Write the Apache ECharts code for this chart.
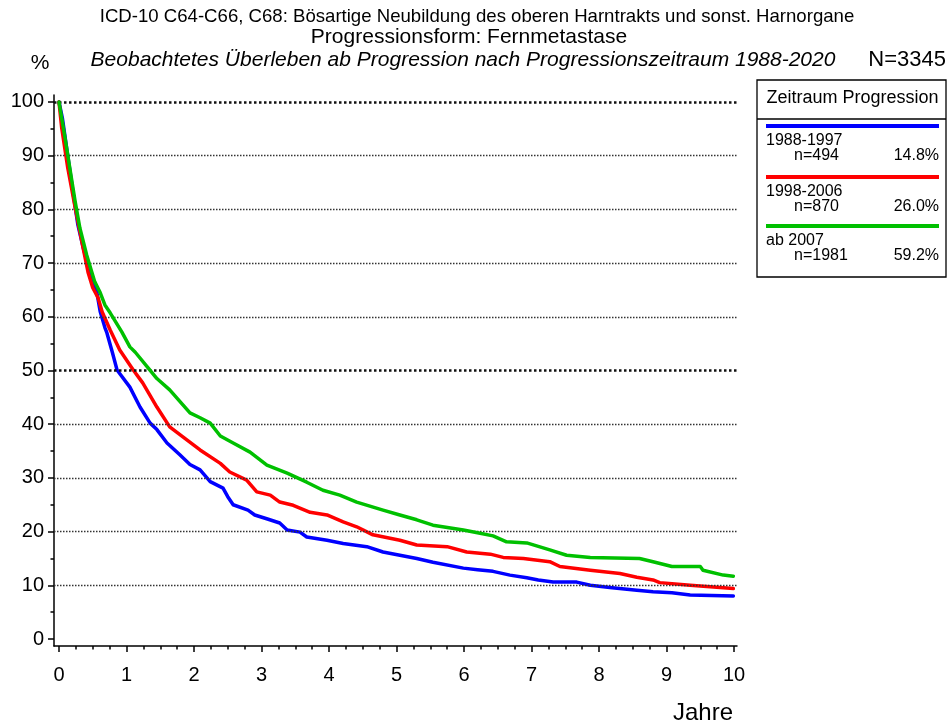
<!DOCTYPE html>
<html>
<head>
<meta charset="utf-8">
<script src="https://cdn.jsdelivr.net/npm/echarts@6/dist/echarts.min.js"></script>
<style>html,body{margin:0;padding:0;background:#fff;}#c{width:949px;height:726px;}</style>
</head>
<body>
<div id="c"></div>
<script>
var FONT = "'Liberation Sans', Arial, sans-serif";

var titleLine1 = 'ICD-10 C64-C66, C68: Bösartige Neubildung des oberen Harntrakts und sonst. Harnorgane';
var titleLine2 = 'Progressionsform: Fernmetastase';
var titleLine3 = 'Beobachtetes Überleben ab Progression nach Progressionszeitraum 1988-2020';
var totalN = 'N=3345';
var yUnit = '%';
var xName = 'Jahre';
var legendTitle = 'Zeitraum Progression';

var groupNames = ['1988-1997', '1998-2006', 'ab 2007'];
var groupN = ['n=494', 'n=870', 'n=1981'];
var groupPct = ['14.8%', '26.0%', '59.2%'];
var groupColors = ['#0000ff', '#ff0000', '#00c000'];

var xTickValues = [0,1,2,3,4,5,6,7,8,9,10];
var xMinorValues = [0.25,0.5,0.75,1.25,1.5,1.75,2.25,2.5,2.75,3.25,3.5,3.75,4.25,4.5,4.75,5.25,5.5,5.75,6.25,6.5,6.75,7.25,7.5,7.75,8.25,8.5,8.75,9.25,9.5,9.75];
var yTickValues = [0,10,20,30,40,50,60,70,80,90,100];
var yMinorValues = [5,15,25,35,45,55,65,75,85,95];
var gridNormal = [10,20,30,40,60,70,80,90];
var gridBold = [50,100];

var survBlue = [[0,100],[0.05,97],[0.13,90],[0.21,83],[0.28,77.1],[0.36,72.8],[0.43,69.5],[0.49,67.2],[0.56,64.6],[0.61,61],[0.68,58],[0.71,57],[0.79,53.4],[0.86,50.1],[1.05,46.9],[1.2,43.2],[1.35,40.2],[1.45,39],[1.6,36.5],[1.79,34.3],[1.94,32.5],[2.09,31.5],[2.24,29.3],[2.43,28.1],[2.5,26.5],[2.58,25],[2.8,24],[2.9,23.1],[3.1,22.3],[3.27,21.6],[3.38,20.3],[3.57,19.9],[3.67,19],[3.97,18.4],[4.21,17.8],[4.56,17.2],[4.8,16.2],[5.05,15.6],[5.3,15],[5.54,14.3],[5.99,13.2],[6.2,12.9],[6.43,12.6],[6.68,11.9],[6.93,11.4],[7.1,11],[7.32,10.6],[7.67,10.6],[7.87,10],[8.16,9.6],[8.56,9.1],[8.8,8.8],[9.08,8.6],[9.35,8.2],[9.99,8.0]];
var survRed = [[0,100],[0.04,95.2],[0.13,87.7],[0.24,80.3],[0.34,73.9],[0.43,68.3],[0.5,65.4],[0.58,63.5],[0.64,60.9],[0.76,57.5],[0.9,53.8],[1.1,50.1],[1.24,47.7],[1.45,43.2],[1.64,39.5],[1.84,37.6],[2.09,35.2],[2.39,32.7],[2.53,31.1],[2.78,29.6],[2.93,27.4],[3.13,26.8],[3.27,25.5],[3.47,24.9],[3.72,23.6],[3.97,23.1],[4.21,21.8],[4.41,20.9],[4.65,19.4],[5.05,18.4],[5.3,17.5],[5.75,17.2],[6.04,16.2],[6.39,15.8],[6.58,15.2],[6.88,15.0],[7.27,14.4],[7.42,13.5],[7.87,12.8],[8.31,12.2],[8.56,11.5],[8.8,11.0],[8.9,10.5],[9.35,10.0],[9.99,9.4]];
var survGreen = [[0,100],[0.09,93.3],[0.16,87.7],[0.24,81.4],[0.31,76.5],[0.41,71.5],[0.53,66.5],[0.61,64.5],[0.68,62.2],[0.76,60.7],[0.93,57.2],[1.05,54.4],[1.13,53.4],[1.32,50.5],[1.45,48.5],[1.64,46.4],[1.94,42.1],[2.09,41.2],[2.24,40.2],[2.39,37.8],[2.58,36.5],[2.83,34.8],[3.08,32.4],[3.38,30.9],[3.67,29.2],[3.91,27.7],[4.16,26.8],[4.41,25.5],[4.8,24.0],[5.05,23.1],[5.3,22.2],[5.54,21.2],[5.99,20.3],[6.2,19.8],[6.43,19.2],[6.63,18.1],[6.93,17.9],[7.27,16.6],[7.52,15.6],[7.87,15.2],[8.6,15.0],[8.8,14.4],[9.08,13.5],[9.5,13.5],[9.54,12.8],[9.84,11.9],[9.99,11.7]];
var survData = [survBlue, survRed, survGreen];

var X_MIN = -0.074, X_MAX = 10.044, Y_MIN = -1.3, Y_MAX = 101.3;

var chart = echarts.init(document.getElementById('c'));

var series = [];
var ml = [];
gridNormal.forEach(function(v){ ml.push({yAxis: v, lineStyle:{type:[1.5,1.5], width:1.3, color:'#333'}}); });
gridBold.forEach(function(v){ ml.push({yAxis: v, lineStyle:{type:[2.5,2.5], width:2.5, color:'#111'}}); });
series.push({type:'line', data:[], z:1, silent:true, markLine:{silent:true, symbol:['none','none'], label:{show:false}, animation:false, data: ml}});
survData.forEach(function(d, i){
  series.push({type:'line', name: groupNames[i], data: d, showSymbol:false, symbol:'none', z: 3+i,
    lineStyle:{color: groupColors[i], width:3.5, cap:'round', join:'round'}, itemStyle:{color: groupColors[i]}, animation:false});
});

var graphics = [];
function txt(x, y, s, size, align, extra){
  graphics.push({type:'text', x:x, y:y, style:{text:s, fill:'#000', font: (extra||'') + ' ' + size + 'px ' + FONT, textAlign:align||'left', textVerticalAlign:'middle'}});
}
txt(477, 17, titleLine1, 18.6, 'center');
txt(469, 37, titleLine2, 21, 'center');
txt(463, 60, titleLine3, 21, 'center', 'italic');
txt(946, 60, totalN, 22, 'right');
txt(40, 63, yUnit, 21, 'center');
txt(733, 713, xName, 24, 'right');

var LX = 757, LY = 80, LW = 189, LH = 197;
graphics.push({type:'rect', shape:{x:LX, y:LY, width:LW, height:LH}, style:{fill:'#fff', stroke:'#000', lineWidth:1.3}});
graphics.push({type:'line', shape:{x1:LX, y1:119, x2:LX+LW, y2:119}, style:{stroke:'#000', lineWidth:1.3}});
txt(LX + LW/2 + 1, 98, legendTitle, 18, 'center');
var rowTop = [126, 177, 226];
groupNames.forEach(function(n, i){
  var y0 = rowTop[i];
  graphics.push({type:'line', shape:{x1:766, y1:y0, x2:939, y2:y0}, style:{stroke: groupColors[i], lineWidth:4}});
  txt(766, y0 + 15, n, 16, 'left');
  txt(794, y0 + 30, groupN[i], 16, 'left');
  txt(939, y0 + 30, groupPct[i], 16, 'right');
});

var option = {
  backgroundColor:'#fff',
  animation:false,
  textStyle:{fontFamily: FONT},
  grid:{left:54, right:212, top:95, bottom:80, containLabel:false},
  xAxis:[
    {type:'value', min:X_MIN, max:X_MAX, position:'bottom',
     axisLine:{show:true, onZero:false, lineStyle:{color:'#000', width:1.5}},
     axisTick:{show:true, customValues: xTickValues, length:6, lineStyle:{color:'#000', width:1.5}},
     axisLabel:{customValues: xTickValues, fontSize:20, color:'#000', margin:19, fontFamily:FONT},
     splitLine:{show:false}},
    {type:'value', min:X_MIN, max:X_MAX, position:'bottom',
     axisLine:{show:false, onZero:false},
     axisTick:{show:true, customValues: xMinorValues, length:3.5, lineStyle:{color:'#000', width:1.5}},
     axisLabel:{show:false}, splitLine:{show:false}}
  ],
  yAxis:[
    {type:'value', min:Y_MIN, max:Y_MAX, position:'left',
     axisLine:{show:true, onZero:false, lineStyle:{color:'#000', width:1.5}},
     axisTick:{show:true, customValues: yTickValues, length:6, lineStyle:{color:'#000', width:1.5}},
     axisLabel:{customValues: yTickValues, fontSize:20, color:'#000', margin:10, fontFamily:FONT},
     splitLine:{show:false}},
    {type:'value', min:Y_MIN, max:Y_MAX, position:'left',
     axisLine:{show:false, onZero:false},
     axisTick:{show:true, customValues: yMinorValues, length:3.5, lineStyle:{color:'#000', width:1.5}},
     axisLabel:{show:false}, splitLine:{show:false}}
  ],
  series: series,
  graphic: graphics
};
chart.setOption(option);
</script>
</body>
</html>
